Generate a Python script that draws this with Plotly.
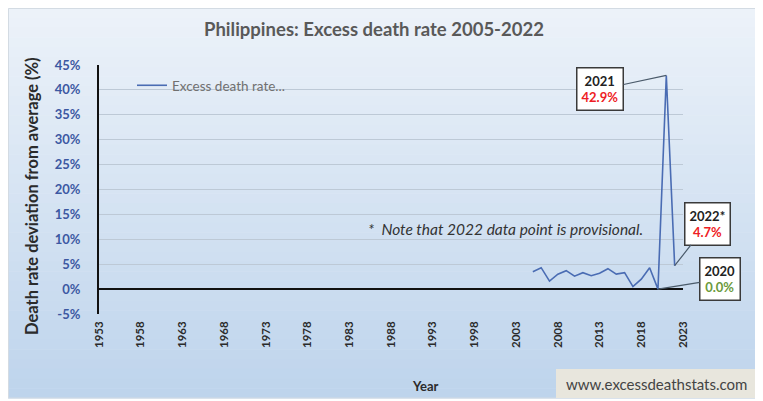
import plotly.graph_objects as go

# ---- data ----
years = [2005, 2006, 2007, 2008, 2009, 2010, 2011, 2012, 2013, 2014,
         2015, 2016, 2017, 2018, 2019, 2020, 2021, 2022]
excess_pct = [3.5, 4.3, 1.6, 3.0, 3.7, 2.6, 3.3, 2.7, 3.2, 4.1,
              3.0, 3.3, 0.5, 2.0, 4.3, 0.0, 42.9, 4.7]
x_tick_vals = [1953, 1958, 1963, 1968, 1973, 1978, 1983, 1988, 1993,
               1998, 2003, 2008, 2013, 2018, 2023]
y_tick_vals = [-5, 0, 5, 10, 15, 20, 25, 30, 35, 40, 45]
y_tick_text = ["-5%", "0%", "5%", "10%", "15%", "20%", "25%", "30%", "35%", "40%", "45%"]

# page body has an 8px margin; the figure sits at (8, 8)
OFF = 8
W, H = 763 - OFF, 401 - OFF
def px(x):
    return (x - OFF) / W
def py(y):
    return 1 - (y - OFF) / H

fig = go.Figure()
fig.add_trace(go.Scatter(
    x=years, y=excess_pct, mode="lines", name="Excess death rate...",
    line=dict(color="#4a6cb3", width=1.6),
))

# gradient background bands
shapes = []
top_c = (236, 242, 249)
bot_c = (190, 212, 236)
y_top, y_bot = 8, 398
n = 40
for i in range(n):
    t = i / (n - 1)
    c = tuple(int(round(top_c[k] + (bot_c[k] - top_c[k]) * t)) for k in range(3))
    y0 = y_top + (y_bot - y_top) * i / n
    y1 = y_top + (y_bot - y_top) * (i + 1) / n
    shapes.append(dict(type="rect", xref="paper", yref="paper", layer="below",
                       x0=px(8), x1=px(763), y0=py(y1 + 0.5), y1=py(y0),
                       fillcolor="rgb(%d,%d,%d)" % c, line=dict(width=0)))
shapes.append(dict(type="rect", xref="paper", yref="paper", layer="below",
                   x0=px(8.5), x1=px(762.5), y0=py(398), y1=py(8.5),
                   fillcolor="rgba(0,0,0,0)", line=dict(color="#d3dbe3", width=1)))
# watermark box
shapes.append(dict(type="rect", xref="paper", yref="paper", layer="below",
                   x0=px(556), x1=px(757), y0=py(398), y1=py(369),
                   fillcolor="#e8e6dd", line=dict(width=0)))

annotations = [
    dict(text="Philippines: Excess death rate 2005-2022", x=px(374), y=py(29),
         xref="paper", yref="paper", showarrow=False, xanchor="center", yanchor="middle",
         font=dict(family="Lato", size=18.5, color="#595959", weight="bold")),
    dict(text="Death rate deviation from average (%)", x=px(32), y=py(196),
         xref="paper", yref="paper", showarrow=False, textangle=-90,
         xanchor="center", yanchor="middle",
         font=dict(family="Lato", size=16.5, color="#2b2b2b", weight="bold")),
    dict(text="Year", x=px(425), y=py(386), xref="paper", yref="paper",
         showarrow=False, xanchor="center", yanchor="middle",
         font=dict(family="Lato", size=13, color="#2b2b2b", weight="bold")),
    dict(text="www.excessdeathstats.com", x=px(656), y=py(384), xref="paper", yref="paper",
         showarrow=False, xanchor="center", yanchor="middle",
         font=dict(family="Lato", size=15, color="#444444")),
    dict(text="*  Note that 2022 data point is provisional.", x=px(505), y=py(229),
         xref="paper", yref="paper", showarrow=False, xanchor="center", yanchor="middle",
         font=dict(family="Lato", size=15.5, color="#333333", style="italic")),
    dict(text="<b>2021</b><br><b><span style='color:#ee1c25'>42.9%</span></b>",
         x=2021, y=42.9, xref="x", yref="y", ax=-66, ay=14,
         showarrow=True, arrowhead=0, arrowwidth=1.2, arrowcolor="#4a5a6a",
         bgcolor="white", bordercolor="#3a3a3a", borderwidth=1.5, borderpad=4,
         font=dict(family="Lato", size=13, color="#222222")),
    dict(text="<b>2022*</b><br><b><span style='color:#ee1c25'>4.7%</span></b>",
         x=2022, y=4.7, xref="x", yref="y", ax=33, ay=-42,
         showarrow=True, arrowhead=0, arrowwidth=1.2, arrowcolor="#4a5a6a",
         bgcolor="white", bordercolor="#3a3a3a", borderwidth=1.5, borderpad=4,
         font=dict(family="Lato", size=13, color="#222222")),
    dict(text="<b>2020</b><br><b><span style='color:#6b9a3c'>0.0%</span></b>",
         x=2020, y=0.0, xref="x", yref="y", ax=62, ay=-10,
         showarrow=True, arrowhead=0, arrowwidth=1.2, arrowcolor="#4a5a6a",
         bgcolor="white", bordercolor="#3a3a3a", borderwidth=1.5, borderpad=4,
         font=dict(family="Lato", size=13, color="#222222")),
]

fig.update_layout(
    width=W, height=H, autosize=False,
    margin=dict(l=0, r=0, t=0, b=0, autoexpand=False),
    paper_bgcolor="white", plot_bgcolor="rgba(0,0,0,0)",
    shapes=shapes, annotations=annotations,
    showlegend=True,
    legend=dict(x=px(132), y=py(70), xanchor="left", yanchor="top",
                bgcolor="rgba(0,0,0,0)", font=dict(family="Lato", size=13.5, color="#707070")),
    xaxis=dict(domain=[px(99), px(683)], range=[1953, 2023], automargin=False,
               tickmode="array", tickvals=x_tick_vals, tickangle=-90,
               tickfont=dict(family="Lato", size=11.5, color="#2b2b2b", weight="bold"),
               ticklabelstandoff=4,
               showgrid=False, zeroline=False, showline=False, ticks=""),
    yaxis=dict(domain=[py(314), py(65)], range=[-5, 45], automargin=False,
               tickmode="array", tickvals=y_tick_vals, ticktext=y_tick_text,
               tickfont=dict(family="Lato", size=13, color="#3c58a2", weight="bold"),
               ticklabelstandoff=14,
               showgrid=True, gridcolor="#bdc9d6", gridwidth=1,
               zeroline=True, zerolinecolor="#111111", zerolinewidth=2,
               showline=True, linecolor="#111111", linewidth=2, ticks=""),
)

fig.write_html("out.html")
